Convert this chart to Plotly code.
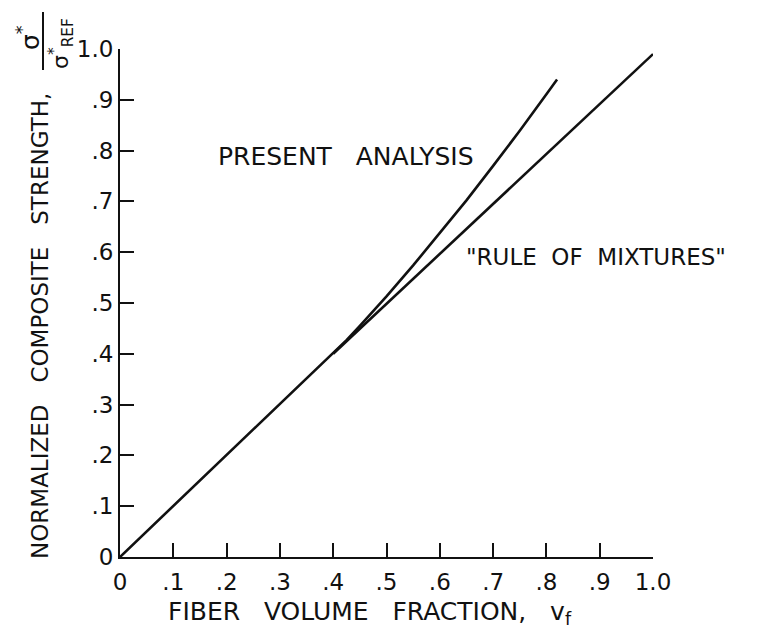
import plotly.graph_objects as go

# Fiber volume fraction vs normalized composite strength
vf_present = [0.0, 0.20, 0.40, 0.425, 0.45, 0.50, 0.55, 0.60, 0.65, 0.70, 0.75, 0.80, 0.82]
s_present = [0.0, 0.20, 0.40, 0.427, 0.455, 0.513, 0.574, 0.637, 0.702, 0.770, 0.839, 0.911, 0.940]

vf_rule = [0.40, 1.00]
s_rule = [0.40, 0.99]

tick_vals = [0, 0.1, 0.2, 0.3, 0.4, 0.5, 0.6, 0.7, 0.8, 0.9, 1.0]
tick_text = ["0", ".1", ".2", ".3", ".4", ".5", ".6", ".7", ".8", ".9", "1.0"]

W, H = 765, 634
L, R, T, B = 120, 112, 49, 77
FONT = "DejaVu Sans, Liberation Sans, sans-serif"
INK = "#111111"


def px(x, y):
    """Pixel position on the page -> paper coordinates."""
    return (x - L) / (W - L - R), (H - B - y) / (H - T - B)


fig = go.Figure()
fig.add_trace(go.Scatter(x=vf_present, y=s_present, mode="lines",
                         line=dict(color=INK, width=2.6), hoverinfo="skip"))
fig.add_trace(go.Scatter(x=vf_rule, y=s_rule, mode="lines",
                         line=dict(color=INK, width=2.6), hoverinfo="skip"))

axis_common = dict(
    range=[0, 1], tickvals=tick_vals, ticktext=tick_text,
    ticks="inside", ticklen=14, tickwidth=2, tickcolor=INK,
    showline=True, linecolor=INK, linewidth=2,
    showgrid=False, zeroline=False,
    tickfont=dict(family=FONT, size=23, color=INK),
)

fig.update_xaxes(**axis_common, ticklabelstandoff=3)
fig.update_yaxes(**axis_common, ticklabelstandoff=0)

annotations = []


def note(text, x, y, size=24, angle=0, xanchor="center"):
    xp, yp = px(x, y)
    annotations.append(dict(
        text=text, x=xp, y=yp, xref="paper", yref="paper",
        showarrow=False, textangle=angle, xanchor=xanchor, yanchor="middle",
        font=dict(family=FONT, size=size, color=INK),
    ))


note("PRESENT   ANALYSIS", 216, 157, size=25, xanchor="left")
note("\"RULE  OF  MIXTURES\"", 464, 257, size=23, xanchor="left")
note("FIBER   VOLUME   FRACTION,   v<sub>f</sub>", 166, 613, size=25, xanchor="left")
note("NORMALIZED   COMPOSITE   STRENGTH,", 40, 326, size=23, angle=-90)
note("σ<sup>*</sup>", 28, 38, size=25, angle=-90)
note("σ<sup>*</sup><sub>REF</sub>", 61, 44, size=22, angle=-90)

fig.update_layout(
    width=W, height=H,
    margin=dict(l=L, r=R, t=T, b=B),
    paper_bgcolor="white", plot_bgcolor="white",
    showlegend=False,
    annotations=annotations,
    shapes=[dict(type="line", xref="paper", yref="paper",
                 x0=px(43, 12)[0], x1=px(43, 70)[0],
                 y0=px(43, 12)[1], y1=px(43, 70)[1],
                 line=dict(color=INK, width=2))],
)

fig.write_html("out.html")
